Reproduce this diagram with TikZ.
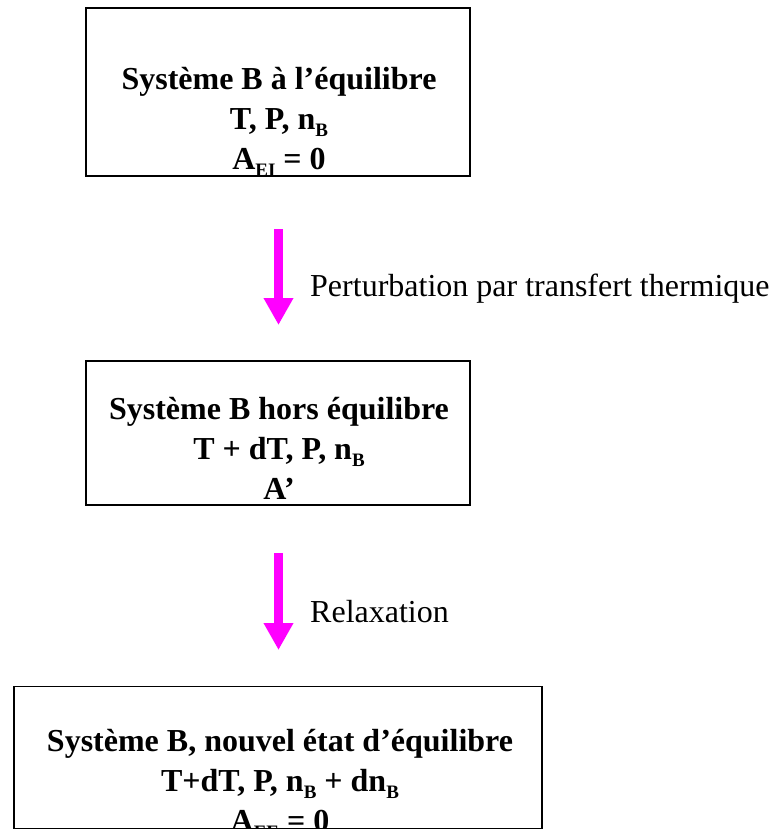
\documentclass[tikz,border=0pt]{standalone}
\usepackage{fontspec}
\setmainfont{Liberation Serif}
\usetikzlibrary{arrows.meta}
\definecolor{arrmag}{HTML}{FF00FF}
\newcommand\mysub[1]{\raisebox{-0.22em}{\fontsize{19}{19}\selectfont #1}}
\begin{document}
\begin{tikzpicture}[x=1pt,y=-1pt,
  box/.style={draw=black,line width=1.6pt,rectangle,inner sep=0pt},
  boxtext/.style={font=\fontsize{32}{40}\selectfont\bfseries,align=center,anchor=base,inner sep=0pt},
  lbl/.style={font=\fontsize{32}{38}\selectfont,anchor=base west,inner sep=0pt},
  bigarrow/.style={draw=arrmag,line width=9pt,-{Triangle[width=28pt,length=27pt]}}]
\useasboundingbox (0,0) rectangle (772,832);
% boxes
\node[box,minimum width=384pt,minimum height=168pt] (b1) at (278,92) {};
\node[box,minimum width=384pt,minimum height=144pt] (b2) at (278,433) {};
% text (anchor base = baseline of last line)
\node[boxtext] (t1) at (279,169) {Système B à l’équilibre\\T, P, n\mysub{B}\\A\mysub{EI} = 0};
\node[boxtext] (t2) at (279,499) {Système B hors équilibre\\T + dT, P, n\mysub{B}\\A’};
\node[boxtext] (t3) at (280,831) {Système B, nouvel état d’équilibre\\T+dT, P, n\mysub{B} + dn\mysub{B}\\A\mysub{EE} = 0};
% white mask below box 3 and box 3 drawn on top
\fill[white] (0,829) rectangle (772,832);
\node[box,minimum width=528pt,minimum height=142pt] (b3) at (278,757.5) {};
% arrows
\coordinate (a1s) at (278.5,229);
\coordinate (a1e) at (278.5,325);
\coordinate (a2s) at (278.5,553);
\coordinate (a2e) at (278.5,650);
\draw[bigarrow] (a1s) -- (a1e);
\draw[bigarrow] (a2s) -- (a2e);
\node[lbl] (l1) at (310,296) {Perturbation par transfert thermique};
\node[lbl] (l2) at (310,622) {Relaxation};
\end{tikzpicture}
\end{document}
